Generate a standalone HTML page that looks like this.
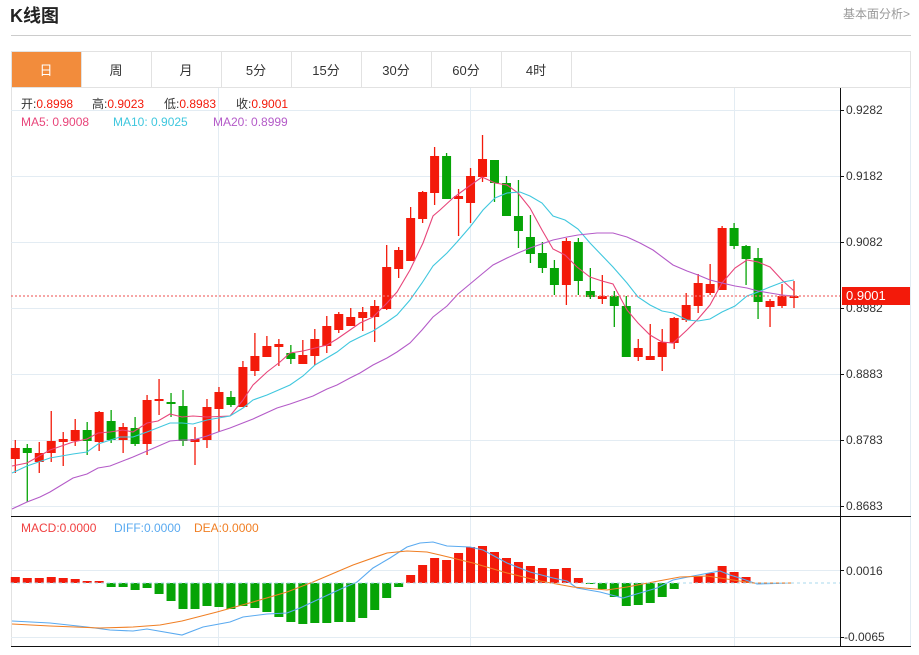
<!DOCTYPE html>
<html><head><meta charset="utf-8"><style>
body{margin:0;background:#fff;font-family:"Liberation Sans","Noto Sans CJK SC",sans-serif;}
svg text{font-family:"Liberation Sans","Noto Sans CJK SC",sans-serif;}
</style></head><body>
<svg id="s" width="919" height="650" xmlns="http://www.w3.org/2000/svg">
<rect width="919" height="650" fill="#fff"/>
<text x="10" y="22" font-size="18" font-weight="bold" fill="#222">K线图</text>
<text x="843" y="18" font-size="12" fill="#999">基本面分析&gt;</text>
<line x1="11" y1="35.5" x2="911" y2="35.5" stroke="#ccc"/>
<rect x="11.5" y="51.5" width="899" height="595" fill="none" stroke="#e2e2e2"/>
<line x1="11" y1="87.5" x2="911" y2="87.5" stroke="#e2e2e2"/>
<rect x="12" y="52" width="69" height="35" fill="#f28c3c"/>
<g stroke="#e2e2e2"><line x1="81.5" y1="52" x2="81.5" y2="87"/><line x1="151.5" y1="52" x2="151.5" y2="87"/><line x1="221.5" y1="52" x2="221.5" y2="87"/><line x1="291.5" y1="52" x2="291.5" y2="87"/><line x1="361.5" y1="52" x2="361.5" y2="87"/><line x1="431.5" y1="52" x2="431.5" y2="87"/><line x1="501.5" y1="52" x2="501.5" y2="87"/><line x1="571.5" y1="52" x2="571.5" y2="87"/></g>
<g font-size="13" text-anchor="middle" fill="#333"><text x="46" y="75" fill="#fff">日</text><text x="116" y="75">周</text><text x="186" y="75">月</text><text x="256" y="75">5分</text><text x="326" y="75">15分</text><text x="396" y="75">30分</text><text x="466" y="75">60分</text><text x="536" y="75">4时</text></g>
<g stroke="#e3ecf3"><line x1="11" y1="110.5" x2="840" y2="110.5"/><line x1="11" y1="176.5" x2="840" y2="176.5"/><line x1="11" y1="242.5" x2="840" y2="242.5"/><line x1="11" y1="308.5" x2="840" y2="308.5"/><line x1="11" y1="374.5" x2="840" y2="374.5"/><line x1="11" y1="440.5" x2="840" y2="440.5"/><line x1="11" y1="506.5" x2="840" y2="506.5"/>
<line x1="11" y1="570.5" x2="840" y2="570.5"/><line x1="11" y1="637.5" x2="840" y2="637.5"/>
<line x1="218.5" y1="88" x2="218.5" y2="647"/><line x1="470.5" y1="88" x2="470.5" y2="647"/><line x1="734.5" y1="88" x2="734.5" y2="647"/><line x1="910.5" y1="88" x2="910.5" y2="647"/></g>
<g id="c"></g>
<line x1="11" y1="296" x2="840" y2="296" stroke="#f07070" stroke-width="1.3" stroke-dasharray="2,2"/>
<line x1="11" y1="583" x2="840" y2="583" stroke="#a8d8ee" stroke-dasharray="3,3"/>
<line x1="11" y1="516.5" x2="911" y2="516.5" stroke="#111"/>
<line x1="11" y1="646.5" x2="911" y2="646.5" stroke="#111"/>
<line x1="840.5" y1="88" x2="840.5" y2="647" stroke="#111"/>
<g font-size="12" fill="#333">
<text x="846" y="114">0.9282</text><text x="846" y="180">0.9182</text><text x="846" y="246">0.9082</text><text x="846" y="312">0.8982</text><text x="846" y="378">0.8883</text><text x="846" y="444">0.8783</text><text x="846" y="510">0.8683</text><text x="846" y="575">0.0016</text><text x="844" y="641">-0.0065</text></g>
<g stroke="#111"><line x1="840" y1="110.5" x2="844" y2="110.5"/><line x1="840" y1="176.5" x2="844" y2="176.5"/><line x1="840" y1="242.5" x2="844" y2="242.5"/><line x1="840" y1="308.5" x2="844" y2="308.5"/><line x1="840" y1="374.5" x2="844" y2="374.5"/><line x1="840" y1="440.5" x2="844" y2="440.5"/><line x1="840" y1="506.5" x2="844" y2="506.5"/><line x1="840" y1="570.5" x2="844" y2="570.5"/><line x1="840" y1="637.5" x2="844" y2="637.5"/></g>
<rect x="842" y="287" width="68" height="18" fill="#f31a0a"/>
<text x="846" y="300" font-size="13" fill="#fff">0.9001</text>
<g font-size="12"><text x="21" y="108" fill="#333">开:<tspan fill="#f31a0a">0.8998</tspan></text><text x="92" y="108" fill="#333">高:<tspan fill="#f31a0a">0.9023</tspan></text><text x="164" y="108" fill="#333">低:<tspan fill="#f31a0a">0.8983</tspan></text><text x="236" y="108" fill="#333">收:<tspan fill="#f31a0a">0.9001</tspan></text>
<text x="21" y="126" fill="#e8457a">MA5: 0.9008</text><text x="113" y="126" fill="#3fc7de">MA10: 0.9025</text><text x="213" y="126" fill="#b45bc8">MA20: 0.8999</text>
<text x="21" y="532" fill="#f04040">MACD:0.0000</text><text x="114" y="532" fill="#5aaaf0">DIFF:0.0000</text><text x="194" y="532" fill="#f07f24">DEA:0.0000</text></g>
</svg>
<script>
var R='#f31a0a',G='#06a406',g=document.getElementById('c'),h='';
var K=[[448,459,440,473,1],[448,453,444,502,0],[453,462,442,473,1],[441,453,411,462,1],[439,442,432,466,1],[430,441,419,446,1],[430,441,422,455,0],[412,442,411,451,1],[421,440,410,443,0],[427,440,423,453,1],[428,444,417,446,0],[400,444,395,455,1],[399,401,379,415,1],[402,404,393,417,0],[406,441,390,446,0],[439,442,427,465,1],[407,440,399,448,1],[392,409,387,432,1],[397,405,391,407,0],[367,407,361,407,1],[356,371,333,376,1],[346,357,336,357,1],[344,347,339,366,1],[353,359,345,364,0],[355,364,340,364,1],[339,356,329,365,1],[326,346,316,353,1],[314,330,312,333,1],[317,326,308,326,1],[312,318,307,331,1],[306,317,300,342,1],[267,309,245,310,1],[250,269,247,278,1],[218,261,207,261,1],[192,219,191,223,1],[156,193,147,205,1],[156,199,153,199,0],[196,199,189,236,1],[176,203,168,223,1],[159,177,135,182,1],[160,183,160,202,0],[183,216,176,216,0],[216,231,180,248,0],[237,254,215,263,0],[253,268,242,273,0],[268,285,260,295,0],[241,285,238,305,1],[242,281,238,295,0],[291,297,268,299,0],[296,299,275,304,1],[296,306,291,327,0],[306,357,296,357,0],[348,357,339,361,1],[356,360,324,360,1],[342,357,329,371,1],[318,343,317,349,1],[305,320,293,322,1],[283,306,274,313,1],[284,293,264,295,1],[228,290,226,290,1],[228,246,223,249,0],[246,259,245,285,0],[258,302,248,319,0],[301,307,299,327,1],[296,306,284,308,1],[296,298,281,308,1]];
function X(i){return 15.3+11.98*i;}
K.forEach(function(k,i){var c=k[4]?R:G,x=X(i);h+='<line x1="'+x+'" y1="'+k[2]+'" x2="'+x+'" y2="'+k[3]+'" stroke="'+c+'" stroke-width="1.3"/><rect x="'+(x-4.5)+'" y="'+k[0]+'" width="9" height="'+Math.max(2,k[1]-k[0])+'" fill="'+c+'"/>';});
var M=[577,578,578,577,578,579,581,581,587,587,590,588,594,601,609,609,606,607,609,606,608,612,617,622,624,623,623,622,622,618,610,598,587,575,565,558,560,553,547,546,552,558,562,566,568,569,568,578,584,589,597,606,605,603,597,589,583,576,573,566,572,577,583,583,583,583];
M.forEach(function(v,i){var x=X(i);if(v==583)return;var c=v<583?R:G;h+='<rect x="'+(x-4.5)+'" y="'+Math.min(v,583)+'" width="9" height="'+Math.abs(v-583)+'" fill="'+c+'"/>';});
function L(p,c){h+='<polyline points="'+p+'" fill="none" stroke="'+c+'" stroke-width="1.1"/>';}
L('12,466 27,463 50,450 73,442 87,439 98,433 110,432 123,430 133,432 147,423 158,421 170,414 182,417 193,416 207,417 230,416 243,400 253,385 267,372 280,362 290,353 303,351 315,348 327,345 337,339 350,330 360,323 373,317 387,303 397,292 410,270 423,243 433,216 440,210 453,198 468,187 482,177 495,183 507,185 518,193 530,208 542,230 553,249 565,255 577,267 590,277 602,281 613,284 627,310 638,323 650,335 662,342 673,343 687,330 698,319 710,305 722,283 735,268 747,260 758,262 770,267 782,280 794,291','#e8457a');
L('12,473 27,466 50,458 73,454 87,452 98,444 120,437 133,437 147,432 170,423 182,423 193,424 207,420 230,416 243,408 253,400 267,395 290,385 303,376 315,365 337,352 350,342 360,337 373,331 387,322 397,315 410,300 422,283 433,266 447,253 457,242 470,227 483,210 495,198 507,193 520,192 530,196 542,203 553,216 565,220 578,229 590,243 613,267 627,283 638,297 650,305 662,311 673,313 687,320 698,321 710,319 722,312 735,306 747,296 758,292 770,287 783,282 794,280','#3fc7de');
L('12,509 27,502 40,497 50,492 73,478 87,474 98,468 110,466 133,457 147,451 170,441 182,440 193,440 207,436 218,432 230,428 253,419 277,408 290,404 313,396 327,389 337,385 350,378 360,373 373,365 387,358 397,352 410,343 422,330 433,317 447,306 458,294 470,284 482,274 493,265 507,258 518,253 530,248 553,240 567,237 578,235 597,233 613,233 627,237 640,243 653,250 673,265 687,271 698,275 710,280 722,283 735,286 747,288 758,291 770,293 782,295 794,296','#b45bc8');
L('12,621 50,623 87,627 110,630 133,631 147,629 182,635 203,627 230,622 243,617 267,614 287,613 300,608 317,600 343,588 357,582 373,568 390,558 407,547 420,543 433,542 447,546 470,547 483,550 507,563 530,572 553,578 567,581 577,588 600,592 623,598 640,593 657,588 673,580 693,576 720,571 730,575 740,578 757,584 793,583','#5aaaf0');
L('12,624 50,626 100,628 133,627 160,625 182,621 217,612 253,602 287,592 313,582 353,565 387,553 407,551 427,552 440,555 473,563 507,573 540,581 573,587 607,590 627,587 653,582 680,577 707,576 733,580 753,583 793,583','#f07f24');
g.innerHTML=h;
</script>
</body></html>
